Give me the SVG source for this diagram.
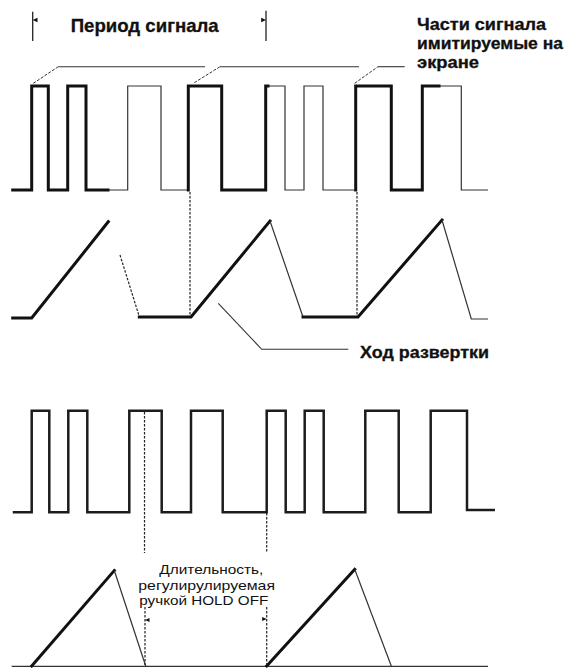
<svg xmlns="http://www.w3.org/2000/svg" width="566" height="668" viewBox="0 0 566 668">
<style>
.thick{fill:none;stroke:#111;stroke-width:3;stroke-linejoin:miter;stroke-linecap:square}
.thin{fill:none;stroke:#333;stroke-width:1.2;stroke-linejoin:miter}
.sig{fill:none;stroke:#1c1c1c;stroke-width:2.5;stroke-linejoin:miter;stroke-linecap:square}
.dot{fill:none;stroke:#222;stroke-width:1.2;stroke-dasharray:2.5,1.5}
.dash{fill:none;stroke:#333;stroke-width:1;stroke-dasharray:3,1.5}
.lead{fill:none;stroke:#333;stroke-width:1.1}
.dim{fill:none;stroke:#222;stroke-width:1.3}
.arr{fill:#111;stroke:none}
.tb{font-family:"Liberation Sans",Arial,sans-serif;font-weight:bold;fill:#111;stroke:#111;stroke-width:0.3}
.tr{font-family:"Liberation Sans",Arial,sans-serif;font-size:13px;fill:#111}
</style>
<rect width="566" height="668" fill="#fff"/>

<g id="signal-top">
  <path class="thin" d="M108,190 H127.7 V86 H161 V190 H188.3"/>
  <path class="thin" d="M266,86 H285 V190 H304 V86 H323 V190 H355.7"/>
  <path class="thin" d="M440,86 H461.3 V190 H488"/>
  <path class="thick" d="M12.7,190 H31.7 V86 H48.3 V190 H67.7 V86 H86 V190 H108"/>
  <path class="thick" d="M188.3,190 V86 H221.7 V190 H265.7 V86 H268"/>
  <path class="thick" d="M355.7,190 V86 H391.3 V190 H422.3 V86 H439"/>
</g>

<g id="sweep-top">
  <path class="thick" d="M12.7,318 H31.7 L108.3,221.7"/>
  <path class="dot" d="M120,255 L139.3,316.7"/>
  <path class="thick" d="M139.3,317 H191 L270,221"/>
  <path class="thin" d="M270,221 L303,317"/>
  <path class="thick" d="M303,317 H358 L442,220"/>
  <path class="thin" d="M442,220 L471.3,319 H488"/>
</g>

<g id="signal-bottom">
  <path class="sig" d="M14,512.3 H31.7 V410.7 H49.3 V512.3 H68.3 V410.7 H87.3 V512.3 H129.3 V410.7 H161.7 V512.3 H191 V410.7 H222.7 V512.3 H266.7 V410.7 H285.7 V512.3 H304.7 V410.7 H323.7 V512.3 H365.3 V410.7 H398.7 V512.3 H430.7 V410.7 H467 V510 H493.7"/>
</g>

<g id="sweep-bottom">
  <path class="thin" d="M11.7,666.3 H488"/>
  <path class="thick" d="M31.7,666 L114.3,570.5"/>
  <path class="thin" d="M114.3,570.5 L145.7,666"/>
  <path class="thick" d="M266.7,666 L354.7,569.3"/>
  <path class="thin" d="M354.7,569.3 L391.3,666"/>
</g>

<g id="connectors">
  <path class="dash" d="M33.3,83.3 L58.3,66.7"/>
  <path class="lead" d="M58.3,66.7 H205"/>
  <path class="dash" d="M194.3,82.7 L220,66.7"/>
  <path class="lead" d="M220,66.7 H359"/>
  <path class="dash" d="M354.7,83.3 L378,66.7"/>
  <path class="lead" d="M378,66.7 H404.7"/>
  <path class="lead" d="M218.3,303.3 L261.7,349.3 H348.3"/>
  <path class="dot" d="M190,192 V316"/>
  <path class="dot" d="M357,192 V316"/>
  <path class="dot" d="M144.5,412 V553"/>
  <path class="dot" d="M266.7,513 V553"/>
  <path class="dot" d="M145,607 V665"/>
  <path class="dot" d="M266.7,607 V665"/>
  <path class="dim" d="M32.7,11.7 V41"/>
  <path class="dim" d="M266,10.7 V41"/>
  <polygon class="arr" points="32.7,20 37.5,17.8 37.5,22.2"/>
  <polygon class="arr" points="266,20 261.2,17.8 261.2,22.2"/>
  <polygon class="arr" points="145,620 149.5,618 149.5,622"/>
  <polygon class="arr" points="266.7,619 262.2,617 262.2,621"/>
</g>

<g id="label-period">
  <text class="tb" x="70.7" y="31.7" font-size="18.5" textLength="148" lengthAdjust="spacingAndGlyphs">Период сигнала</text>
</g>
<g id="label-parts">
  <text class="tb" x="417" y="29.5" font-size="16" textLength="129" lengthAdjust="spacingAndGlyphs">Части сигнала</text>
  <text class="tb" x="417" y="48.5" font-size="16" textLength="146" lengthAdjust="spacingAndGlyphs">имитируемые на</text>
  <text class="tb" x="417" y="67.5" font-size="16" textLength="62" lengthAdjust="spacingAndGlyphs">экране</text>
</g>
<g id="label-sweep">
  <text class="tb" x="360" y="358" font-size="16.5" textLength="129" lengthAdjust="spacingAndGlyphs">Ход развертки</text>
</g>
<g id="label-holdoff">
  <text class="tr" x="159.3" y="574" textLength="104" lengthAdjust="spacingAndGlyphs">Длительность,</text>
  <text class="tr" x="138.3" y="589.5" textLength="136.7" lengthAdjust="spacingAndGlyphs">регулирулируемая</text>
  <text class="tr" x="139.3" y="605" textLength="129" lengthAdjust="spacingAndGlyphs">ручкой HOLD OFF</text>
</g>
</svg>
